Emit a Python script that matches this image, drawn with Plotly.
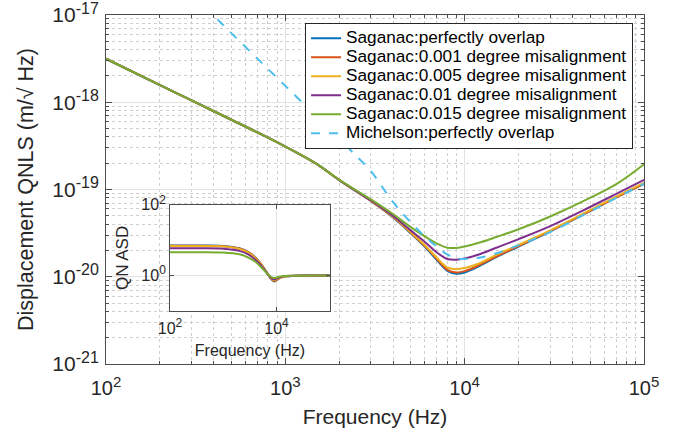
import plotly.graph_objects as go

# ---------------- data ----------------
freq_main = [100, 200, 300, 500, 700, 1000, 1500, 2000, 3000, 4000, 5000, 6000, 7000,
             8000, 9000, 10000, 12000, 15000, 20000, 30000, 50000, 70000, 100000]

sag_perfect = [3.15e-18, 1.57e-18, 1.05e-18, 6.3e-19, 4.5e-19, 3.1e-19, 1.95e-19, 1.28e-19,
               7.4e-20, 4.75e-20, 3.15e-20, 2.2e-20, 1.55e-20, 1.17e-20, 1.08e-20, 1.12e-20,
               1.32e-20, 1.68e-20, 2.22e-20, 3.32e-20, 5.65e-20, 8.1e-20, 1.16e-19]
sag_001 = [3.15e-18, 1.57e-18, 1.05e-18, 6.3e-19, 4.5e-19, 3.1e-19, 1.95e-19, 1.28e-19,
           7.4e-20, 4.8e-20, 3.2e-20, 2.25e-20, 1.6e-20, 1.2e-20, 1.12e-20, 1.16e-20,
           1.35e-20, 1.7e-20, 2.25e-20, 3.35e-20, 5.7e-20, 8.1e-20, 1.17e-19]
sag_005 = [3.15e-18, 1.57e-18, 1.05e-18, 6.3e-19, 4.5e-19, 3.1e-19, 1.95e-19, 1.28e-19,
           7.45e-20, 4.85e-20, 3.25e-20, 2.3e-20, 1.65e-20, 1.28e-20, 1.22e-20, 1.26e-20,
           1.42e-20, 1.78e-20, 2.32e-20, 3.4e-20, 5.8e-20, 8.3e-20, 1.19e-19]
sag_01 = [3.15e-18, 1.57e-18, 1.05e-18, 6.3e-19, 4.5e-19, 3.1e-19, 1.95e-19, 1.28e-19,
          7.5e-20, 4.95e-20, 3.4e-20, 2.5e-20, 1.9e-20, 1.6e-20, 1.57e-20, 1.62e-20,
          1.8e-20, 2.15e-20, 2.7e-20, 3.8e-20, 6.3e-20, 8.9e-20, 1.29e-19]
sag_015 = [3.15e-18, 1.57e-18, 1.05e-18, 6.3e-19, 4.5e-19, 3.1e-19, 1.95e-19, 1.29e-19,
           7.7e-20, 5.2e-20, 3.7e-20, 2.9e-20, 2.4e-20, 2.15e-20, 2.14e-20, 2.22e-20,
           2.45e-20, 2.85e-20, 3.5e-20, 4.9e-20, 8.0e-20, 1.15e-19, 1.95e-19]

freq_mich = [300, 395, 500, 700, 1000, 1500, 2000, 2500, 3000, 4000, 5000, 6000, 7000,
             8000, 9000, 10000, 12000, 15000, 20000, 30000, 50000, 70000, 100000]
michelson = [1.73e-17, 1.0e-17, 6.2e-18, 3.15e-18, 1.54e-18, 6.8e-19, 3.8e-19, 2.4e-19,
             1.62e-19, 7.1e-20, 4.2e-20, 2.9e-20, 2.2e-20, 1.8e-20, 1.62e-20, 1.6e-20,
             1.65e-20, 1.85e-20, 2.3e-20, 3.25e-20, 5.6e-20, 8.0e-20, 1.17e-19]

freq_inset = [100, 300, 1000, 2000, 3000, 4000, 5000, 6000, 7000, 8000, 9000, 10000,
              12000, 15000, 20000, 50000, 100000]
qn_perfect = [7.1, 7.1, 6.9, 5.9, 4.55, 3.25, 2.2, 1.5, 1.05, 0.78, 0.68, 0.74, 0.88, 0.95, 0.98, 1.0, 1.0]
qn_001 = [7.0, 7.0, 6.8, 5.8, 4.5, 3.2, 2.2, 1.5, 1.05, 0.8, 0.7, 0.75, 0.88, 0.95, 0.98, 1.0, 1.0]
qn_005 = [6.9, 6.9, 6.7, 5.7, 4.4, 3.1, 2.15, 1.48, 1.05, 0.82, 0.74, 0.78, 0.9, 0.96, 0.98, 1.0, 1.0]
qn_01 = [5.9, 5.9, 5.75, 5.0, 3.9, 2.8, 2.0, 1.42, 1.05, 0.85, 0.78, 0.82, 0.92, 0.97, 0.99, 1.0, 1.0]
qn_015 = [4.6, 4.6, 4.5, 4.0, 3.2, 2.45, 1.8, 1.35, 1.05, 0.9, 0.86, 0.88, 0.95, 0.98, 0.99, 1.0, 1.0]

names = ["Saganac:perfectly overlap", "Saganac:0.001 degree misalignment",
         "Saganac:0.005 degree misalignment", "Saganac:0.01 degree misalignment",
         "Saganac:0.015 degree misalignment"]
mich_name = "Michelson:perfectly overlap"
colors = ["#0072BD", "#D95319", "#EDB120", "#7E2F8E", "#77AC30"]
mich_color = "#4DBEEE"

main_yticks = [1e-21, 1e-20, 1e-19, 1e-18, 1e-17]
main_yexp = ["-21", "-20", "-19", "-18", "-17"]
main_xticks = [1e2, 1e3, 1e4, 1e5]
main_xexp = ["2", "3", "4", "5"]
inset_xticks = [1e2, 1e4]
inset_xexp = ["2", "4"]
inset_yticks = [1e0, 1e2]
inset_yexp = ["0", "2"]

# ---------------- figure ----------------
FONT = "Arial, Liberation Sans, Helvetica, sans-serif"
LEG = '<span style="font-size:17.2px">%s</span>'


def pow_labels(exps, sup_px):
    return ['10<sup><span style="font-size:%dpx">%s</span></sup>' % (sup_px, e) for e in exps]


fig = go.Figure()

sag_series = [sag_perfect, sag_001, sag_005, sag_01, sag_015]
for vals, nm, c in zip(sag_series, names, colors):
    fig.add_trace(go.Scatter(x=freq_main, y=vals, name=LEG % nm, mode="lines",
                             line=dict(color=c, width=2, shape="spline"),
                             xaxis="x", yaxis="y"))
fig.add_trace(go.Scatter(x=freq_mich, y=michelson, name=LEG % mich_name, mode="lines",
                         line=dict(color=mich_color, width=2, dash="dash", shape="spline"),
                         xaxis="x", yaxis="y"))

qn_series = [qn_perfect, qn_001, qn_005, qn_01, qn_015]
for vals, c in zip(qn_series, colors):
    fig.add_trace(go.Scatter(x=freq_inset, y=vals, mode="lines", showlegend=False,
                             line=dict(color=c, width=2, shape="spline"),
                             xaxis="x2", yaxis="y2"))

def minor_vals(lo, hi):
    out = []
    for e in range(lo, hi):
        for m in range(2, 10):
            out.append(m * 10.0 ** e)
    return out

axis_common = dict(showline=True, linecolor="#4d4d4d", linewidth=1, mirror="ticks",
                   ticks="inside", tickcolor="#4d4d4d", zeroline=False,
                   gridcolor="#e3e3e3", gridwidth=1, automargin=False,
                   ticklabeloverflow="allow")
minor_common = dict(tickmode="array", showgrid=True, griddash="dot", gridcolor="#cfcfcf",
                    ticks="inside", ticklen=3, tickcolor="#4d4d4d")

fig.update_layout(
    width=685, height=440,
    margin=dict(l=106, r=41, t=15, b=76, autoexpand=False),
    paper_bgcolor="white", plot_bgcolor="white",
    font=dict(family=FONT, color="#262626"),
    xaxis=dict(type="log", range=[2, 5], tickmode="array", tickvals=main_xticks,
               ticktext=pow_labels(main_xexp, 15), tickfont=dict(size=20), ticklen=6,
               ticklabelstandoff=6,
               title=dict(text="Frequency (Hz)", font=dict(size=21), standoff=11),
               minor=dict(tickvals=minor_vals(2, 5), **minor_common),
               **axis_common),
    yaxis=dict(type="log", range=[-21, -17], tickmode="array", tickvals=main_yticks,
               ticktext=pow_labels(main_yexp, 16), tickfont=dict(size=21), ticklen=6,
               ticklabelstandoff=2,
               title=dict(text="Displacement QNLS (m/\u221a Hz)", font=dict(size=21.5), standoff=12),
               minor=dict(tickvals=minor_vals(-21, -17), **minor_common),
               **axis_common),
    xaxis2=dict(type="log", range=[2, 5], domain=[0.119, 0.416], anchor="y2",
                tickmode="array", tickvals=inset_xticks, ticktext=pow_labels(inset_xexp, 12),
                tickfont=dict(size=16), ticklen=4, ticklabelstandoff=3,
                title=dict(text="Frequency (Hz)", font=dict(size=16), standoff=8),
                showgrid=True, **axis_common),
    yaxis2=dict(type="log", range=[-1, 2], domain=[0.152, 0.456], anchor="x2",
                tickmode="array", tickvals=inset_yticks, ticktext=pow_labels(inset_yexp, 12),
                tickfont=dict(size=16), ticklen=4,
                title=dict(text="QN ASD", font=dict(size=17), standoff=8),
                showgrid=True, **axis_common),
    legend=dict(x=0.37, y=0.978, xanchor="left", yanchor="top",
                bgcolor="white", bordercolor="#262626", borderwidth=1,
                font=dict(size=12, color="#000000"), tracegroupgap=0,
                itemwidth=30),
    showlegend=True,
)

fig.write_html("out.html", post_script="document.body.style.margin='0';",
               config={"displayModeBar": False})
